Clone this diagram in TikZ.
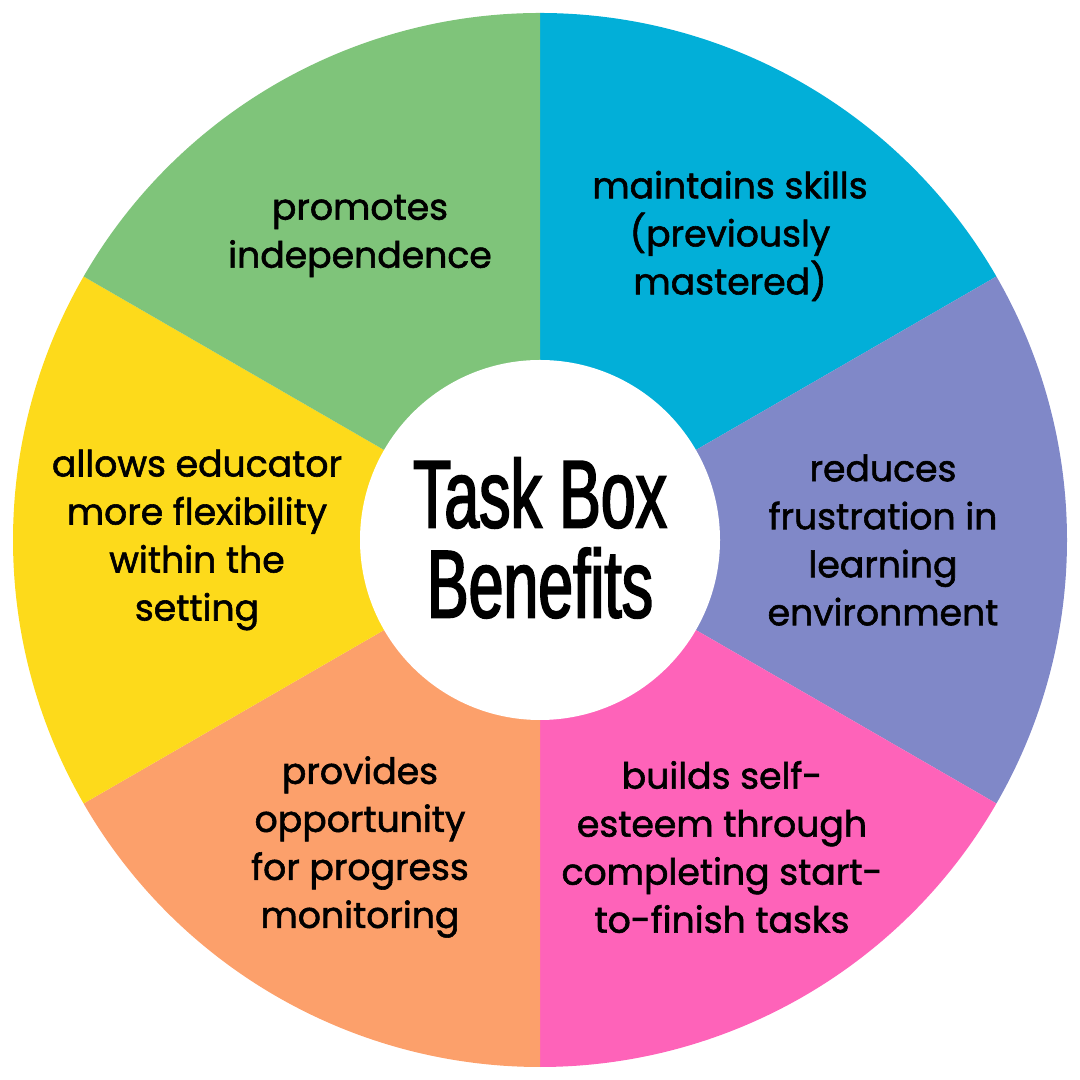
\documentclass[tikz,border=0pt]{standalone}
\usepackage{fontspec}
\setmainfont{Poppins}[FakeBold=1.6]
\newfontfamily\titlefont[FakeStretch=0.65,FakeBold=1.9]{Liberation Sans}

\definecolor{wgreen}{HTML}{7FC47A}
\definecolor{wblue}{HTML}{02AFD8}
\definecolor{wpurple}{HTML}{8088C8}
\definecolor{wpink}{HTML}{FE63B9}
\definecolor{worange}{HTML}{FCA06B}
\definecolor{wyellow}{HTML}{FDDA1B}

\tikzset{
  benefit/.style={align=center, inner sep=0pt, font=\fontsize{10.3}{13.66}\selectfont},
  hubtext/.style={align=center, inner sep=0pt, font=\titlefont\fontsize{27.4}{25.6}\selectfont}
}

\begin{document}
\begin{tikzpicture}
  % Define radii
  \def\R{5.27}
  \def\r{1.8}
  \useasboundingbox (0,0) rectangle (10.8,10.8);
  \coordinate (c) at (5.4,5.4);

  % --- Wedges ---
  \foreach \a/\col in {30/wblue, -30/wpurple, -90/wpink, -150/worange, 150/wyellow, 90/wgreen} {
    \fill[\col] (c) -- ++(\a:\R) arc[start angle=\a, end angle=\a+60, radius=\R] -- cycle;
  }

  % --- Hub ---
  \fill[white] (c) circle (\r);
  \node[hubtext] (hub) at (5.4,5.42) {Task Box\\Benefits};

  % --- Benefits ---
  \node[benefit] (indep) at (3.60,8.44) {promotes\\independence};
  \node[benefit] (skills) at (7.30,8.44) {maintains skills\\(previously\\mastered)};
  \node[benefit] (frust) at (8.83,5.40) {reduces\\frustration in\\learning\\environment};
  \node[benefit] (esteem) at (7.22,2.33) {builds self-\\esteem through\\completing start-\\to-finish tasks};
  \node[benefit] (monit) at (3.60,2.33) {provides\\opportunity\\for progress\\monitoring};
  \node[benefit] (flex) at (1.97,5.40) {allows educator\\more flexibility\\within the\\setting};

\end{tikzpicture}
\end{document}
